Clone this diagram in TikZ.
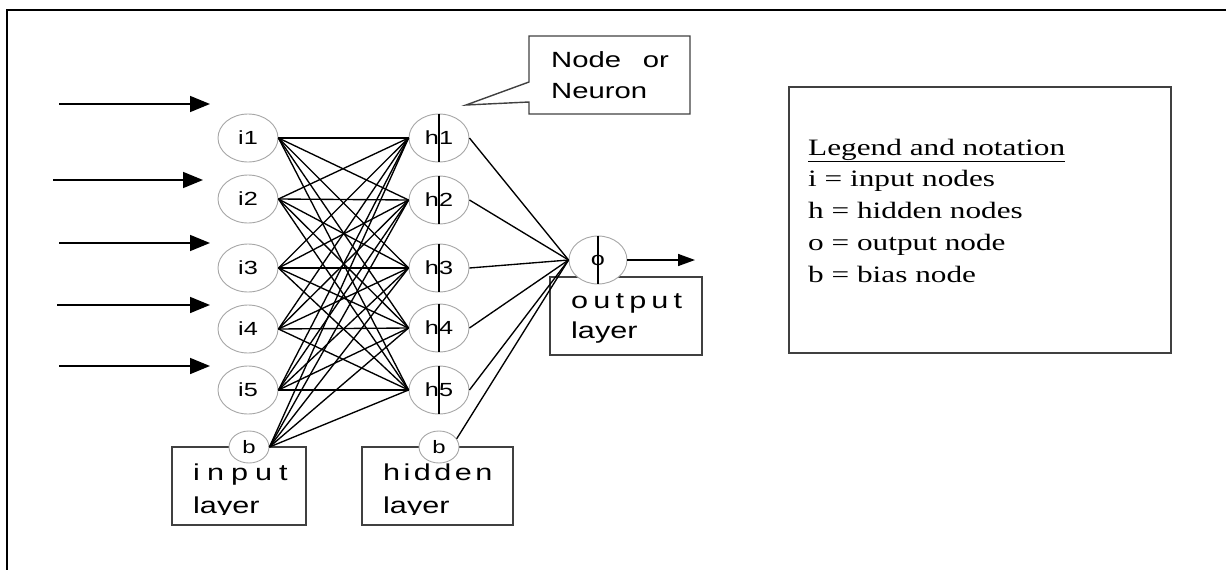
\documentclass[tikz,border=0pt]{standalone}
\usepackage{fontspec}
\setmainfont{Liberation Serif}
\setsansfont{Liberation Sans}
\usetikzlibrary{shapes.geometric,arrows.meta}
\newcommand\sx[1]{\scalebox{1.33}[1]{#1}}
\begin{document}
\begin{tikzpicture}[x=1pt,y=-1pt,
  neuron/.style={ellipse, draw=gray!70, line width=0.9pt, fill=white, minimum width=60pt, minimum height=48pt, inner sep=0pt, font=\sffamily\fontsize{19}{19}\selectfont},
  bias/.style={ellipse, draw=gray!70, line width=0.9pt, fill=white, minimum width=40pt, minimum height=32pt, inner sep=0pt, font=\sffamily\fontsize{18}{18}\selectfont},
  wire/.style={line width=1.35pt},
  divider/.style={line width=1.35pt},
  lbox/.style={draw=black!75, line width=1.4pt},
  inarrow/.style={line width=1.6pt, -{Triangle[length=20pt,width=16pt]}},
  outarrow/.style={line width=1.5pt, -{Triangle[length=17pt,width=12pt]}},
  boxtext/.style={anchor=base west, inner sep=0pt, font=\sffamily\fontsize{23}{23}\selectfont},
]
\useasboundingbox (0,0) rectangle (1226,570);
% outer frame (only left and top visible)
\draw[line width=2pt] (1226,10) -- (7,10) -- (7,570);

% layer boxes
\draw[lbox] (172,447) rectangle (306,525);
\draw[lbox] (362,447) rectangle (513,525);
\draw[lbox] (550,277) rectangle (702,355);

% box texts
\node[boxtext] (tin) at (193,480) {\sx{i\hspace{5.3pt}n\hspace{5.3pt}p\hspace{5.3pt}u\hspace{5.3pt}t}};
\node[boxtext] (thid) at (383,480) {\sx{h\hspace{2.6pt}i\hspace{2.6pt}d\hspace{2.6pt}d\hspace{2.6pt}e\hspace{2.6pt}n}};
\begin{scope}
  \clip (172,447) rectangle (306,514.5);
  \node[boxtext] (tinl) at (193,513) {\sx{layer}};
\end{scope}
\begin{scope}
  \clip (362,447) rectangle (513,514.5);
  \node[boxtext] (thidl) at (383,513) {\sx{layer}};
\end{scope}
\node[boxtext] (tout) at (571,308) {\sx{o\hspace{3.9pt}u\hspace{3.9pt}t\hspace{3.9pt}p\hspace{3.9pt}u\hspace{3.9pt}t}};
\node[boxtext] (toutl) at (571,338) {\sx{layer}};

% callout
\draw[lbox] (529,36) -- (690,36) -- (690,114) -- (529,114) -- (529,102) -- (466,105) -- (529,82) -- cycle;
\node[anchor=base west, inner sep=0pt, font=\sffamily\fontsize{22}{31}\selectfont] (callout) at (551,67)
  {\sx{\begin{tabular}[t]{@{}l@{}}\makebox[88.5pt][s]{Node or}\\Neuron\end{tabular}}};

% legend
\draw[lbox] (789,87) rectangle (1171,353);
\node[anchor=base west, inner sep=0pt, font=\rmfamily\fontsize{23.5}{31.75}\selectfont] (legend) at (808,155)
  {\sx{\begin{tabular}[t]{@{}l@{}}\underline{Legend and notation}\\ i = input nodes\\ h = hidden nodes\\ o = output node\\ b = bias node\end{tabular}}};

% nodes
\node[neuron] (i1) at (248,138) {\sx{i1}};
\node[neuron] (i2) at (248,199) {\sx{i2}};
\node[neuron] (i3) at (248,268) {\sx{i3}};
\node[neuron] (i4) at (248,329) {\sx{i4}};
\node[neuron] (i5) at (248,390) {\sx{i5}};
\node[bias] (bi) at (249,447) {\sx{b}};

\node[neuron] (h1) at (439,138) {\sx{h1}};
\node[neuron] (h2) at (439,200) {\sx{h2}};
\node[neuron] (h3) at (439,268) {\sx{h3}};
\node[neuron] (h4) at (439,328) {\sx{h4}};
\node[neuron] (h5) at (439,390) {\sx{h5}};
\node[bias] (bh) at (439,447) {\sx{b}};
\foreach \k in {1,...,5} \draw[divider] (h\k.north) -- (h\k.south);

\node[neuron, minimum width=58pt] (o) at (598,260) {\sx{o}};
\draw[divider] (o.north) -- (o.south);

% connections
\foreach \a in {1,...,5} {
  \foreach \b in {1,...,5} {
    \draw[wire] (i\a.east) -- (h\b.west);
  }
  \draw[wire] (bi.east) -- (h\a.west);
  \draw[wire] (h\a.east) -- (o.west);
}
\draw[wire] (bh.25) -- (o.west);

% input arrows
\coordinate (a1) at (59,104);  \coordinate (t1) at (210,104);
\coordinate (a2) at (53,180);  \coordinate (t2) at (203,180);
\coordinate (a3) at (59,243);  \coordinate (t3) at (210,243);
\coordinate (a4) at (57,305);  \coordinate (t4) at (210,305);
\coordinate (a5) at (59,366);  \coordinate (t5) at (210,366);
\foreach \k in {1,...,5} \draw[inarrow] (a\k) -- (t\k);

% output arrow
\coordinate (oend) at (695,260);
\draw[outarrow] (o.east) -- (oend);
\end{tikzpicture}
\end{document}
